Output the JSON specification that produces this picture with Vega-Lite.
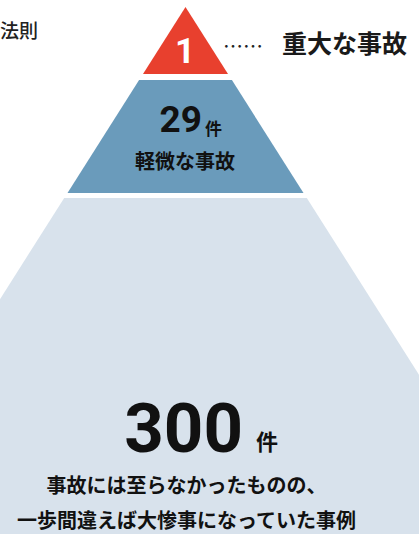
{
  "$schema": "https://vega.github.io/schema/vega-lite/v6.json",
  "width": 419,
  "height": 534,
  "autosize": {"type": "none"},
  "padding": 0,
  "background": "white",
  "config": {"view": {"stroke": null}},
  "datasets": {
    "shapes": [
      {"tier": "重大な事故", "depth": 0, "left": 0, "right": 0},
      {"tier": "重大な事故", "depth": 67, "left": -42.5, "right": 42.5},
      {"tier": "軽微な事故", "depth": 73, "left": -46.4, "right": 46.4},
      {"tier": "軽微な事故", "depth": 186, "left": -118, "right": 118},
      {"tier": "ヒヤリハット", "depth": 191, "left": -121.3, "right": 121.3},
      {"tier": "ヒヤリハット", "depth": 527, "left": -334.6, "right": 334.6}
    ],
    "tiers": [
      {"tier": "重大な事故", "count": "1", "desc": "重大な事故"},
      {"tier": "軽微な事故", "count": "29", "desc": "軽微な事故"},
      {"tier": "ヒヤリハット", "count": "300", "desc": "事故には至らなかったものの、\n一歩間違えば大惨事になっていた事例"}
    ]
  },
  "layer": [
    {
      "data": {"name": "shapes"},
      "mark": {"type": "area", "orient": "horizontal", "clip": true},
      "encoding": {
        "y": {"field": "depth", "type": "quantitative", "scale": {"domain": [-7, 527], "reverse": true, "nice": false, "zero": false}, "axis": null},
        "x": {"field": "left", "type": "quantitative", "scale": {"domain": [-185.5, 233.5], "nice": false, "zero": false}, "axis": null},
        "x2": {"field": "right"},
        "color": {"field": "tier", "type": "nominal", "scale": {"domain": ["重大な事故", "軽微な事故", "ヒヤリハット"], "range": ["#E8402E", "#6A9BBB", "#D8E2EC"]}, "legend": null}
      }
    },
    {
      "data": {"values": [{"title": "法則"}]},
      "mark": {"type": "text", "align": "left", "baseline": "middle", "fontSize": 19, "fontWeight": 500, "font": "Noto Sans CJK JP", "color": "#222222"},
      "encoding": {"x": {"datum": -185.5}, "y": {"datum": 24.5}, "text": {"field": "title"}}
    },
    {
      "data": {"name": "tiers"},
      "transform": [{"filter": "datum.tier === '重大な事故'"}],
      "layer": [
        {
          "mark": {"type": "text", "align": "center", "baseline": "alphabetic", "fontSize": 35, "fontWeight": "bold", "font": "Roboto", "color": "white"},
          "encoding": {"x": {"datum": -0.5}, "y": {"datum": 56}, "text": {"field": "count"}}
        },
        {
          "mark": {"type": "text", "text": "……", "align": "center", "baseline": "middle", "fontSize": 20, "font": "Noto Sans CJK JP", "color": "#222222"},
          "encoding": {"x": {"datum": 57.5}, "y": {"datum": 41}}
        },
        {
          "mark": {"type": "text", "align": "left", "baseline": "middle", "fontSize": 25, "fontWeight": "bold", "font": "Noto Sans CJK JP", "color": "#1a1a1a"},
          "encoding": {"x": {"datum": 96.5}, "y": {"datum": 38}, "text": {"field": "desc"}}
        }
      ]
    },
    {
      "data": {"name": "tiers"},
      "transform": [{"filter": "datum.tier === '軽微な事故'"}],
      "layer": [
        {
          "mark": {"type": "text", "align": "right", "baseline": "alphabetic", "fontSize": 37, "fontWeight": "bold", "font": "Roboto", "color": "#111111"},
          "encoding": {"x": {"datum": 16.5}, "y": {"datum": 125}, "text": {"field": "count"}}
        },
        {
          "mark": {"type": "text", "text": "件", "align": "left", "baseline": "alphabetic", "fontSize": 17, "fontWeight": "bold", "font": "Noto Sans CJK JP", "color": "#111111"},
          "encoding": {"x": {"datum": 19.5}, "y": {"datum": 128}}
        },
        {
          "mark": {"type": "text", "align": "center", "baseline": "middle", "fontSize": 20, "fontWeight": "bold", "font": "Noto Sans CJK JP", "color": "#111111"},
          "encoding": {"x": {"datum": -0.5}, "y": {"datum": 156}, "text": {"field": "desc"}}
        }
      ]
    },
    {
      "data": {"name": "tiers"},
      "transform": [{"filter": "datum.tier === 'ヒヤリハット'"}],
      "layer": [
        {
          "mark": {"type": "text", "align": "right", "baseline": "alphabetic", "fontSize": 69, "fontWeight": "bold", "font": "Roboto", "color": "#111111"},
          "encoding": {"x": {"datum": 57.5}, "y": {"datum": 445}, "text": {"field": "count"}}
        },
        {
          "mark": {"type": "text", "text": "件", "align": "left", "baseline": "alphabetic", "fontSize": 22, "fontWeight": "bold", "font": "Noto Sans CJK JP", "color": "#111111"},
          "encoding": {"x": {"datum": 70.5}, "y": {"datum": 443}}
        },
        {
          "mark": {"type": "text", "align": "center", "baseline": "top", "lineBreak": "\n", "lineHeight": 35, "fontSize": 20, "fontWeight": "bold", "font": "Noto Sans CJK JP", "color": "#111111"},
          "encoding": {"x": {"datum": 1}, "y": {"datum": 470}, "text": {"field": "desc"}}
        }
      ]
    }
  ]
}
